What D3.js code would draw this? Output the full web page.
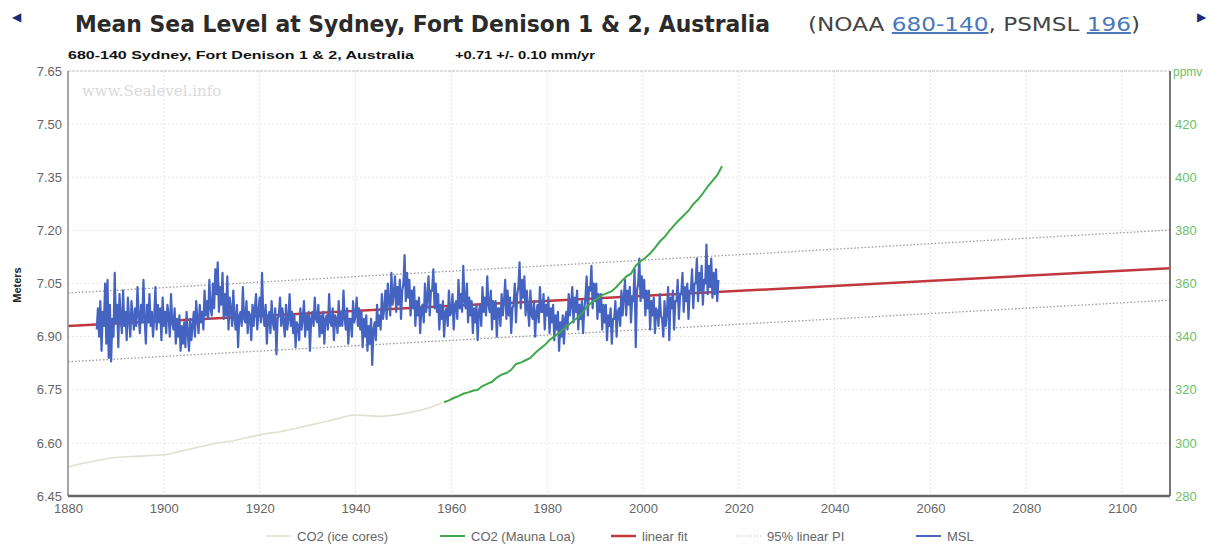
<!DOCTYPE html>
<html>
<head>
<meta charset="utf-8">
<script src="https://cdn.jsdelivr.net/npm/d3@7.8.5/dist/d3.min.js"></script>
<style>
  html, body { margin: 0; padding: 0; background: #fff; }
  svg { display: block; font-family: "Liberation Sans", Arial, sans-serif; }
</style>
</head>
<body>
<svg id="chart" width="1218" height="544"></svg>
<script>
// ---- data ----
const xTicks = [1880, 1900, 1920, 1940, 1960, 1980, 2000, 2020, 2040, 2060, 2080, 2100];
const leftTicks = [6.45, 6.60, 6.75, 6.90, 7.05, 7.20, 7.35, 7.50, 7.65];
const rightTicks = [280, 300, 320, 340, 360, 380, 400, 420];

// CO2 from ice cores, ppmv
const iceYears = [1880, 1885, 1890, 1895, 1900, 1905, 1910, 1915, 1920, 1925, 1930, 1935, 1940, 1945, 1950, 1955, 1958];
const icePpm = [291, 293, 294.5, 295, 295.5, 297.5, 299.5, 301, 303, 304.5, 306.5, 308.5, 310.5, 310, 311, 313, 315];

// CO2 Mauna Loa annual means, ppmv (1958..2016)
const mloStartYear = 1958;
const mloPpm = [315.3, 316.0, 316.9, 317.6, 318.5, 319.0, 319.6, 320.0, 321.4, 322.2, 323.0, 324.6, 325.7, 326.3,
  327.5, 329.7, 330.2, 331.1, 332.0, 333.8, 335.4, 336.8, 338.7, 340.1, 341.4, 343.0, 344.6, 346.0, 347.4, 349.2,
  351.6, 353.1, 354.4, 355.6, 356.4, 357.1, 358.8, 360.8, 362.6, 363.7, 366.7, 368.4, 369.7, 371.3, 373.4, 375.8,
  377.5, 379.8, 381.9, 383.8, 385.6, 387.4, 389.9, 391.6, 393.9, 396.5, 398.6, 400.8, 404.2];

// linear fit and 95% prediction interval end points (years, meters)
const fitYears = [1880, 2110];
const fitLevel = [6.930, 7.093];
const piUpper = [7.023, 7.201];
const piLower = [6.829, 7.003];

// MSL quarterly values, meters, from 1886.0
const mslStartYear = 1886;
const mslLevel = [
  6.92, 6.98, 6.90, 7.00,  6.86, 6.97, 6.93, 7.05,  6.88, 7.06, 6.84, 6.99,  6.83, 6.95, 6.90, 7.08,
  6.94, 6.99, 6.87, 7.02,  6.95, 6.91, 7.03, 6.93,  6.97, 6.89, 7.01, 6.95,  6.90, 7.00, 6.96, 6.92,
  6.98, 6.93, 7.04, 6.96,  6.91, 6.99, 6.94, 7.06,  6.95, 6.88, 6.99, 6.94,  7.02, 6.93, 6.97, 6.90,
  6.96, 7.04, 6.92, 6.99,  6.94, 6.98, 6.89, 7.01,  6.93, 6.97, 6.91, 6.99,  6.96, 6.90, 7.02, 6.94,
  6.92, 6.98, 6.88, 6.95,  6.90, 6.96, 6.86, 6.93,  6.88, 6.94, 6.87, 6.97,  6.91, 6.86, 6.95, 6.89,
  6.93, 6.97, 6.90, 7.00,  6.95, 6.91, 6.99, 6.94,  6.97, 6.92, 7.03, 6.96,  7.00, 6.95, 7.06, 6.98,
  6.96, 7.05, 6.98, 7.09,  7.02, 7.11, 6.97, 7.04,  6.99, 7.08, 6.95, 7.02,  6.96, 7.07, 6.92, 7.01,
  6.98, 6.93, 7.03, 6.95,  6.92, 6.99, 6.87, 6.96,  6.97, 6.93, 7.04, 6.95,  6.94, 7.00, 6.91, 6.97,
  6.96, 6.89, 6.99, 6.93,  6.98, 7.02, 6.92, 6.97,  7.01, 6.94, 7.08, 6.96,  6.93, 6.99, 6.88, 6.95,
  6.97, 6.91, 7.00, 6.94,  6.92, 6.98, 6.85, 6.95,  6.96, 7.01, 6.93, 6.98,  6.94, 6.90, 6.99, 6.92,
  6.95, 7.02, 6.93, 6.97,  6.91, 6.96, 6.87, 6.94,  6.93, 6.89, 6.98, 6.92,  6.95, 7.00, 6.90, 6.96,
  6.92, 6.97, 6.86, 6.95,  6.97, 6.93, 7.01, 6.95,  6.94, 6.99, 6.90, 6.96,  6.91, 6.97, 6.88, 6.95,
  6.96, 6.92, 7.02, 6.94,  6.93, 6.98, 6.89, 6.96,  6.95, 6.91, 7.00, 6.93,  6.97, 6.93, 7.03, 6.95,
  6.92, 6.98, 6.88, 6.95,  6.95, 6.90, 7.00, 6.94,  6.96, 7.01, 6.93, 6.98,  6.92, 6.97, 6.87, 6.95,
  6.90, 6.96, 6.86, 6.93,  6.88, 6.95, 6.82, 6.92,  6.94, 6.89, 6.99, 6.93,  6.96, 6.92, 7.02, 6.95,
  6.98, 7.03, 6.95, 7.05,  7.00, 6.96, 7.08, 6.99,  7.02, 7.07, 6.97, 7.04,  6.99, 7.06, 6.95, 7.03,
  7.05, 7.13, 7.00, 7.08,  7.01, 7.06, 6.96, 7.03,  6.98, 7.04, 6.93, 7.00,  6.96, 7.01, 6.91, 6.98,
  6.99, 6.94, 7.05, 6.97,  7.01, 7.07, 6.96, 7.03,  7.03, 7.09, 6.98, 7.05,  6.97, 7.02, 6.92, 6.99,
  6.95, 7.00, 6.90, 6.97,  6.98, 6.93, 7.03, 6.96,  6.97, 7.02, 6.92, 6.99,  7.00, 6.95, 7.06, 6.98,
  7.02, 6.97, 7.10, 7.00,  6.98, 7.05, 6.94, 7.01,  6.96, 7.00, 6.91, 6.98,  6.94, 6.99, 6.89, 6.97,
  6.99, 6.93, 7.04, 6.97,  7.01, 6.96, 7.07, 6.99,  6.97, 7.03, 6.92, 7.00,  6.95, 7.00, 6.90, 6.98,
  6.98, 6.93, 7.02, 6.96,  7.00, 7.06, 6.95, 7.03,  6.96, 7.01, 6.91, 6.98,  6.99, 7.05, 6.94, 7.02,
  7.04, 7.11, 6.98, 7.06,  7.01, 7.07, 6.96, 7.03,  6.98, 6.93, 7.03, 6.96,  6.95, 7.00, 6.90, 6.97,
  6.99, 6.94, 7.04, 6.97,  6.97, 7.02, 6.92, 6.99,  6.96, 7.01, 6.91, 6.98,  6.94, 6.99, 6.89, 6.96,
  6.92, 6.97, 6.86, 6.94,  6.90, 6.96, 6.88, 6.95,  6.97, 6.92, 7.02, 6.96,  6.99, 7.04, 6.94, 7.01,
  6.97, 7.03, 6.92, 6.99,  6.95, 7.00, 6.91, 6.98,  7.01, 7.07, 6.96, 7.04,  7.03, 7.10, 6.98, 7.05,
  7.00, 7.05, 6.95, 7.02,  6.97, 7.02, 6.92, 6.99,  6.94, 6.99, 6.89, 6.96,  6.93, 6.98, 6.88, 6.95,
  6.95, 7.00, 6.90, 6.97,  6.98, 6.93, 7.03, 6.96,  7.01, 7.06, 6.96, 7.03,  6.99, 7.04, 6.94, 7.01,
  7.00, 7.09, 6.87, 7.03,  7.05, 7.12, 7.00, 7.07,  7.01, 7.06, 6.96, 7.03,  6.98, 7.03, 6.92, 7.00,
  6.96, 7.01, 6.91, 6.98,  6.97, 6.93, 7.02, 6.96,  6.95, 6.90, 7.00, 6.93,  6.97, 7.04, 6.89, 7.01,
  6.98, 7.03, 6.92, 7.00,  7.00, 7.06, 6.95, 7.02,  7.02, 7.08, 6.97, 7.04,  7.00, 7.05, 6.95, 7.03,
  7.03, 7.09, 6.98, 7.05,  7.05, 7.12, 7.00, 7.08,  7.03, 7.10, 6.99, 7.06,  7.05, 7.16, 7.02, 7.10,
  7.04, 7.12, 7.01, 7.08,  7.02, 7.09, 7.00, 7.06
];

const legendItems = [
  { label: 'CO2 (ice cores)', color: '#dbe3d0', width: 1.5, dash: null, x: 266 },
  { label: 'CO2 (Mauna Loa)', color: '#3fa84a', width: 2, dash: null, x: 440 },
  { label: 'linear fit', color: '#c0383e', width: 2.5, dash: null, x: 611 },
  { label: '95% linear PI', color: '#b8b8b8', width: 1.2, dash: '1,2', x: 736 },
  { label: 'MSL', color: '#4a68c0', width: 2, dash: null, x: 916 }
];

// ---- layout ----
const svg = d3.select('#chart');
const plot = { left: 68, top: 71, right: 1170, bottom: 496 };

const x = d3.scaleLinear().domain([1880, 2110]).range([plot.left, plot.right]);
const yL = d3.scaleLinear().domain([6.45, 7.65]).range([plot.bottom, plot.top]);
const yR = d3.scaleLinear().domain([280, 440]).range([plot.bottom, plot.top]);

// ---- header ----
const arrowColor = '#1c2a7a';
svg.append('text').attr('x', 12).attr('y', 21).attr('font-size', 12).attr('fill', arrowColor).text('◀');
svg.append('text').attr('x', 1197).attr('y', 21).attr('font-size', 12).attr('fill', arrowColor).text('▶');

svg.append('text')
  .attr('x', 75).attr('y', 32)
  .attr('font-family', '"DejaVu Sans", Verdana, sans-serif')
  .attr('font-weight', 'bold').attr('font-size', 23).attr('fill', '#2b2b2b')
  .attr('textLength', 695).attr('lengthAdjust', 'spacingAndGlyphs')
  .text('Mean Sea Level at Sydney, Fort Denison 1 & 2, Australia');

const paren = svg.append('text')
  .attr('x', 808).attr('y', 31)
  .attr('font-family', '"DejaVu Sans", Verdana, sans-serif')
  .attr('font-size', 20).attr('fill', '#444')
  .attr('textLength', 332).attr('lengthAdjust', 'spacingAndGlyphs');
paren.append('tspan').text('(NOAA ');
paren.append('tspan').attr('fill', '#4a78b8').attr('text-decoration', 'underline').text('680-140');
paren.append('tspan').text(', PSMSL ');
paren.append('tspan').attr('fill', '#4a78b8').attr('text-decoration', 'underline').text('196');
paren.append('tspan').text(')');

svg.append('text')
  .attr('x', 68).attr('y', 59)
  .attr('font-weight', 'bold').attr('font-size', 11).attr('fill', '#111')
  .attr('textLength', 346).attr('lengthAdjust', 'spacingAndGlyphs')
  .text('680-140 Sydney, Fort Denison 1 & 2, Australia');
svg.append('text')
  .attr('x', 455).attr('y', 59)
  .attr('font-weight', 'bold').attr('font-size', 11).attr('fill', '#111')
  .attr('textLength', 140).attr('lengthAdjust', 'spacingAndGlyphs')
  .text('+0.71 +/- 0.10 mm/yr');

// ---- grid ----
const grid = svg.append('g').attr('stroke', '#e6e6e6').attr('stroke-width', 1).attr('stroke-dasharray', '2,2');
grid.selectAll('line.v').data(xTicks.filter(d => d > 1880)).enter().append('line')
  .attr('x1', d => x(d)).attr('x2', d => x(d)).attr('y1', plot.top).attr('y2', plot.bottom);
grid.selectAll('line.h').data(leftTicks.filter(d => d > 6.45 && d < 7.65)).enter().append('line')
  .attr('x1', plot.left).attr('x2', plot.right).attr('y1', d => yL(d)).attr('y2', d => yL(d));

// watermark
svg.append('text')
  .attr('x', 82).attr('y', 96)
  .attr('font-family', '"DejaVu Serif", "Liberation Serif", serif')
  .attr('font-size', 15).attr('fill', '#dadada')
  .text('www.Sealevel.info');

// ---- series ----
const lineL = d3.line().x(d => x(d[0])).y(d => yL(d[1]));
const lineR = d3.line().x(d => x(d[0])).y(d => yR(d[1]));

const clip = svg.append('defs').append('clipPath').attr('id', 'clip');
clip.append('rect').attr('x', plot.left).attr('y', plot.top)
  .attr('width', plot.right - plot.left).attr('height', plot.bottom - plot.top);
const series = svg.append('g').attr('clip-path', 'url(#clip)');

// prediction interval
[piUpper, piLower].forEach(band => {
  series.append('path')
    .datum(fitYears.map((yr, i) => [yr, band[i]]))
    .attr('d', lineL).attr('fill', 'none')
    .attr('stroke', '#999').attr('stroke-width', 1.3).attr('stroke-dasharray', '1.5,2');
});

// linear fit
series.append('path')
  .datum(fitYears.map((yr, i) => [yr, fitLevel[i]]))
  .attr('d', lineL).attr('fill', 'none')
  .attr('stroke', '#c0383e').attr('stroke-width', 2.5);

// MSL
series.append('path')
  .datum(mslLevel.map((v, i) => [mslStartYear + i / 4, v]))
  .attr('d', lineL).attr('fill', 'none')
  .attr('stroke', '#4563c0').attr('stroke-width', 2.2).attr('stroke-linejoin', 'round');

// CO2 ice cores
series.append('path')
  .datum(iceYears.map((yr, i) => [yr, icePpm[i]]))
  .attr('d', lineR.curve(d3.curveMonotoneX)).attr('fill', 'none')
  .attr('stroke', '#dbe3d0').attr('stroke-width', 1.6);

// CO2 Mauna Loa
series.append('path')
  .datum(mloPpm.map((v, i) => [mloStartYear + i + 0.5, v]))
  .attr('d', d3.line().x(d => x(d[0])).y(d => yR(d[1]))).attr('fill', 'none')
  .attr('stroke', '#3fa84a').attr('stroke-width', 2);

// ---- frame / axes ----
svg.append('line').attr('x1', plot.left).attr('x2', plot.right).attr('y1', plot.top).attr('y2', plot.top)
  .attr('stroke', '#bbb').attr('stroke-width', 1.2).attr('stroke-dasharray', '3,1');

const axisStyle = g => {
  g.select('.domain').remove();
  g.selectAll('.tick line').remove();
  g.selectAll('.tick text').attr('font-family', '"Liberation Sans", Arial, sans-serif').attr('font-size', 13);
};

svg.append('g').attr('transform', `translate(${plot.left},0)`)
  .call(d3.axisLeft(yL).tickValues(leftTicks).tickFormat(d3.format('.2f')).tickSize(0).tickPadding(6))
  .call(axisStyle)
  .call(g => g.selectAll('.tick text').attr('fill', '#666'));

svg.append('g').attr('transform', `translate(${plot.right},0)`)
  .call(d3.axisRight(yR).tickValues(rightTicks).tickSize(0).tickPadding(5))
  .call(axisStyle)
  .call(g => g.selectAll('.tick text').attr('fill', '#6cbf6c'));

svg.append('g').attr('transform', `translate(0,${plot.bottom})`)
  .call(d3.axisBottom(x).tickValues(xTicks).tickFormat(d3.format('d')).tickSize(0).tickPadding(8))
  .call(axisStyle)
  .call(g => g.selectAll('.tick text').attr('fill', '#666'));

svg.append('line').attr('x1', plot.left).attr('x2', plot.left).attr('y1', plot.top).attr('y2', plot.bottom)
  .attr('stroke', '#888').attr('stroke-width', 1.5);
svg.append('line').attr('x1', plot.right).attr('x2', plot.right).attr('y1', plot.top).attr('y2', plot.bottom)
  .attr('stroke', '#777').attr('stroke-width', 2);
svg.append('line').attr('x1', plot.left).attr('x2', plot.right).attr('y1', plot.bottom).attr('y2', plot.bottom)
  .attr('stroke', '#666').attr('stroke-width', 2.5);

svg.append('text')
  .attr('x', plot.right + 3).attr('y', plot.top + 5)
  .attr('font-size', 12).attr('fill', '#6cbf6c')
  .text('ppmv');

svg.append('text')
  .attr('transform', 'translate(21,285) rotate(-90)')
  .attr('text-anchor', 'middle')
  .attr('font-weight', 'bold').attr('font-size', 11).attr('fill', '#222')
  .text('Meters');

// ---- legend ----
const legend = svg.append('g').attr('transform', 'translate(0,536)');
const item = legend.selectAll('g').data(legendItems).enter().append('g')
  .attr('transform', d => `translate(${d.x},0)`);
item.append('line')
  .attr('x1', 0).attr('x2', 25).attr('y1', 0).attr('y2', 0)
  .attr('stroke', d => d.color).attr('stroke-width', d => d.width)
  .attr('stroke-dasharray', d => d.dash);
item.append('text')
  .attr('x', 31).attr('y', 4.5)
  .attr('font-size', 13).attr('fill', '#666')
  .text(d => d.label);
</script>
</body>
</html>
